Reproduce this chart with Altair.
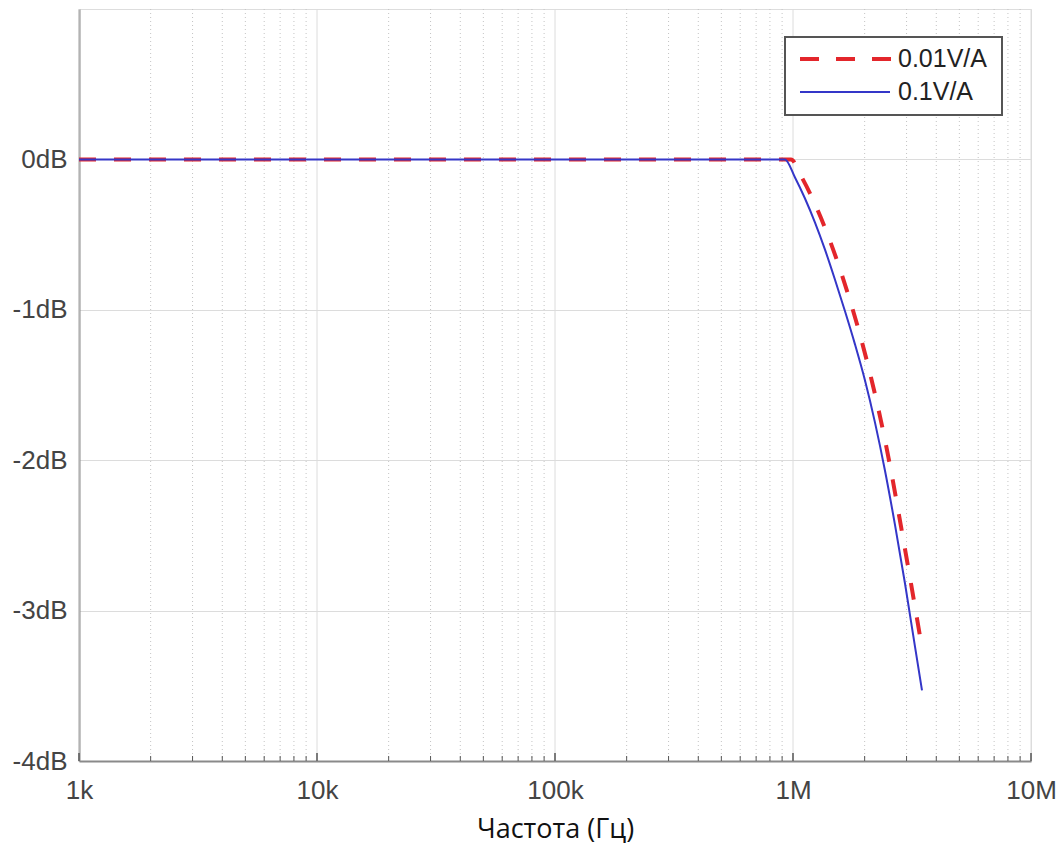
import altair as alt
import pandas as pd

# ---- data ----
series = ["0.01V/A", "0.1V/A"]
colors = ["#e3262b", "#3436c8"]

freq_001 = [1e3, 980.8e3, 1.0804e6, 1.1902e6, 1.3113e6, 1.4442e6, 1.5911e6, 1.7528e6,
            1.9304e6, 2.1269e6, 2.343e6, 2.5807e6, 2.8428e6, 3.1316e6, 3.4167e6]
db_001 = [0, 0, -0.11, -0.24, -0.39, -0.56, -0.75, -0.96, -1.19, -1.45, -1.74, -2.07,
          -2.44, -2.82, -3.17]

freq_01 = [1e3, 925.5e3, 1.0195e6, 1.123e6, 1.2374e6, 1.3627e6, 1.5013e6, 1.654e6,
           1.8217e6, 2.007e6, 2.2109e6, 2.4353e6, 2.6825e6, 2.9552e6, 3.2552e6, 3.4833e6]
db_01 = [0, 0, -0.12, -0.26, -0.42, -0.60, -0.80, -1.01, -1.23, -1.47, -1.75, -2.07,
         -2.43, -2.82, -3.24, -3.53]

x_ticks = [1e3, 1e4, 1e5, 1e6, 1e7]
x_labels = ["1k", "10k", "100k", "1M", "10M"]
minor_mult = [2, 3, 4, 5, 6, 7, 8, 9]
y_ticks = [0, -1, -2, -3, -4]
x_title = "Частота (Гц)"

W, H = 952, 752
FONT = "Liberation Sans"

df_red = pd.DataFrame({"f": freq_001, "db": db_001, "s": series[0]})
df_blue = pd.DataFrame({"f": freq_01, "db": db_01, "s": series[1]})
minor = [m * d for d in x_ticks[:-1] for m in minor_mult]
df_minor = pd.DataFrame({"f": minor})
df_major = pd.DataFrame({"f": x_ticks})

xscale = alt.Scale(type="log", domain=[1e3, 1e7])
yscale = alt.Scale(domain=[-4, 1])

label_expr = "{" + ",".join(f"'{int(v)}':'{l}'" for v, l in zip(x_ticks, x_labels)) + "}[''+datum.value]"

xaxis = alt.Axis(values=x_ticks, labelExpr=label_expr, grid=False, ticks=False, labelFlush=False,
                 domainColor="#8a8a8a", domainWidth=2, labelFont=FONT, labelFontSize=26,
                 labelColor="#444", labelBaseline="middle", labelPadding=29,
                 title=x_title, titleFont="Open Sans", titleFontSize=27, titleFontWeight="normal",
                 titleColor="#111", titleBaseline="alphabetic", titleY=76)
yaxis = alt.Axis(values=y_ticks, labelExpr="datum.value + 'dB'", grid=True, gridColor="#dcdcdc",
                 gridWidth=1, ticks=False, domainColor="#8a8a8a", domainWidth=2, labelFont=FONT,
                 labelFontSize=26, labelColor="#444", labelPadding=12, labelFlush=False, title=None)

minor_grid = alt.Chart(df_minor).mark_rule(color="#c4c4c4", strokeDash=[1, 3], strokeWidth=1).encode(
    x=alt.X("f:Q", scale=xscale, axis=xaxis))
major_grid = alt.Chart(df_major).mark_rule(color="#dcdcdc", strokeWidth=1).encode(
    x=alt.X("f:Q", scale=xscale))
ticks_minor = alt.Chart(df_minor).mark_rule(color="#555", strokeWidth=1).encode(
    x=alt.X("f:Q", scale=xscale), y=alt.value(H - 5), y2=alt.value(H))
ticks_major = alt.Chart(df_major).mark_rule(color="#555", strokeWidth=1.5).encode(
    x=alt.X("f:Q", scale=xscale), y=alt.value(H - 8), y2=alt.value(H))

color_scale = alt.Scale(domain=series, range=colors)

red_line = alt.Chart(df_red).mark_line(strokeWidth=4, strokeDash=[17, 18], interpolate="monotone").encode(
    x=alt.X("f:Q", scale=xscale),
    y=alt.Y("db:Q", scale=yscale, axis=yaxis),
    color=alt.Color("s:N", scale=color_scale, legend=None))
blue_line = alt.Chart(df_blue).mark_line(strokeWidth=2, interpolate="monotone").encode(
    x=alt.X("f:Q", scale=xscale),
    y=alt.Y("db:Q", scale=yscale),
    color=alt.Color("s:N", scale=color_scale, legend=None))

# legend box (drawn manually to match the original's long line symbols)
one = pd.DataFrame({"a": [0]})
LX, LY = 706, 28
leg_box = alt.Chart(one).mark_rect(fill="white", stroke="#555", strokeWidth=2).encode(
    x=alt.value(LX), x2=alt.value(LX + 217), y=alt.value(LY), y2=alt.value(LY + 78))
leg_red = alt.Chart(one).mark_rule(color=colors[0], strokeWidth=4, strokeDash=[19, 17]).encode(
    x=alt.value(LX + 15), x2=alt.value(LX + 107), y=alt.value(LY + 22))
leg_blue = alt.Chart(one).mark_rule(color=colors[1], strokeWidth=2).encode(
    x=alt.value(LX + 15), x2=alt.value(LX + 105), y=alt.value(LY + 55))
leg_t1 = alt.Chart(one).mark_text(align="left", baseline="middle", font=FONT, fontSize=25,
                                  color="#222").encode(
    x=alt.value(LX + 113), y=alt.value(LY + 22), text=alt.value(series[0]))
leg_t2 = alt.Chart(one).mark_text(align="left", baseline="middle", font=FONT, fontSize=25,
                                  color="#222").encode(
    x=alt.value(LX + 113), y=alt.value(LY + 55), text=alt.value(series[1]))

chart = alt.layer(minor_grid, major_grid, ticks_minor, ticks_major, red_line, blue_line,
                  leg_box, leg_red, leg_blue, leg_t1, leg_t2).properties(
    width=W, height=H,
    autosize=alt.AutoSizeParams(type="none"),
    padding={"left": 71, "top": 1, "right": 25, "bottom": 88},
).configure_view(stroke=None).configure(background="white")

chart.save("out.html", embed_options={"renderer": "svg", "actions": False})
